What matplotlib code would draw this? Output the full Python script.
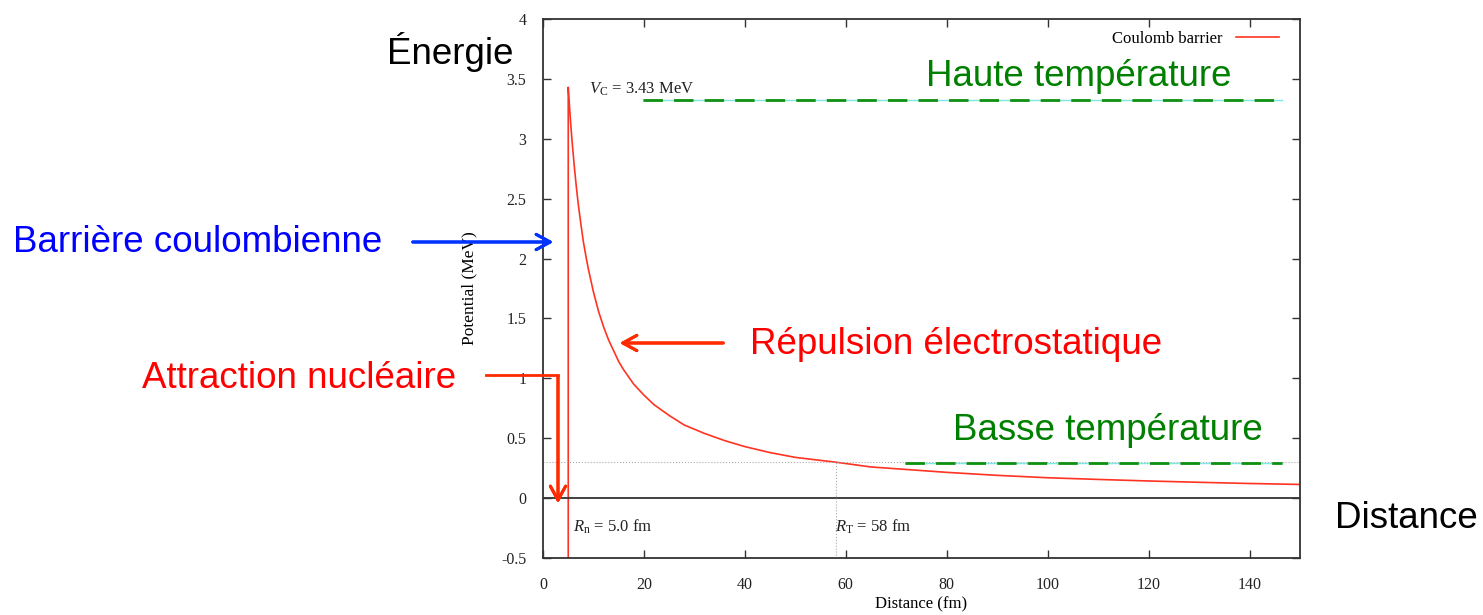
import numpy as np
import matplotlib.pyplot as plt

plt.rcParams['mathtext.fontset'] = 'custom'
plt.rcParams['mathtext.rm'] = 'Liberation Serif'
plt.rcParams['mathtext.it'] = 'Liberation Serif:italic'

# DATA
r_fm = [5, 5, 5.2, 5.5, 5.8, 6.2, 6.6, 7, 7.5, 8, 8.5, 9, 10, 11, 12, 13, 14, 15, 16,
        18, 20, 22, 25, 28, 32, 36, 40, 45, 50, 58, 65, 70, 80, 90, 100, 110, 120,
        130, 140, 150]
v_mev = [-0.5, 3.43, 3.30, 3.12, 2.96, 2.77, 2.60, 2.45, 2.29, 2.14, 2.02, 1.91,
         1.72, 1.56, 1.43, 1.32, 1.23, 1.14, 1.07, 0.95, 0.86, 0.78, 0.69, 0.61,
         0.54, 0.48, 0.43, 0.38, 0.34, 0.30, 0.26, 0.245, 0.215, 0.19, 0.17, 0.156,
         0.143, 0.132, 0.122, 0.114]
r_n = 5.0
r_t = 58
v_c = 3.43
v_t = 0.30
haute_x = [19.8, 146.5]
haute_y = 3.32
basse_x = [71.7, 146.5]
basse_y = 0.295
x_ticks = [0, 20, 40, 60, 80, 100, 120, 140]
y_ticks = [-0.5, 0, 0.5, 1, 1.5, 2, 2.5, 3, 3.5, 4]
y_labels = ['-0.5', '0', '0.5', '1', '1.5', '2', '2.5', '3', '3.5', '4']

W, H = 1483, 615
fig = plt.figure(figsize=(W / 100, H / 100), dpi=100)
ax = fig.add_axes([543 / W, 1 - 558 / H, (1300 - 543) / W, (558 - 19) / H])

serif = 'Liberation Serif'
sans = 'Liberation Sans'

def px(x, y):
    return (x / W, 1 - y / H)

# curve
ax.plot(r_fm, v_mev, color='#ff3322', lw=1.2, label='Coulomb barrier')
ax.axhline(0, color='#333333', lw=1.3)
ax.plot([0, 150], [v_t, v_t], ls=':', color='#aaaaaa', lw=0.8)
ax.plot([r_t, r_t], [-0.5, v_t], ls=':', color='#aaaaaa', lw=0.8)

# temperature lines (green dashes on cyan)
for xs, yv in [(haute_x, haute_y), (basse_x, basse_y)]:
    ax.plot(xs, [yv, yv], color='#7fe8e0', lw=1.0)
    ax.plot(xs, [yv, yv], color='#109010', lw=2.0, dashes=(7, 4))

ax.set_xlim(0, 150)
ax.set_ylim(-0.5, 4)
ax.set_xticks(x_ticks)
ax.set_yticks(y_ticks)
ax.set_yticklabels(y_labels)
ax.tick_params(direction='in', top=True, right=True, length=6, width=1,
               colors='#333333', labelsize=11.5, labelcolor='#222222')
ax.tick_params(axis='x', pad=14)
ax.tick_params(axis='y', pad=12)
for lab in ax.get_xticklabels() + ax.get_yticklabels():
    lab.set_fontfamily(serif)
for s in ax.spines.values():
    s.set_color('#333333')
    s.set_linewidth(1.3)

ax.set_xlabel('Distance (fm)', fontfamily=serif, fontsize=12, labelpad=2)
ax.set_ylabel('Potential (MeV)', fontfamily=serif, fontsize=12.5, labelpad=17)

leg = ax.legend(loc='upper right', frameon=False, markerfirst=False,
                prop={'family': serif, 'size': 12}, handlelength=2.6,
                borderaxespad=0.3, bbox_to_anchor=(0.988, 1.0))

ax.text(9.2, 3.41, r'$V_\mathrm{C}$ = 3.43 MeV', fontfamily=serif, fontsize=12,
        va='center', ha='left', color='#222222')
ax.text(6, -0.24, r'$R_\mathrm{n}$ = 5.0 fm', fontfamily=serif, fontsize=12,
        va='center', ha='left', color='#222222')
ax.text(57.8, -0.24, r'$R_\mathrm{T}$ = 58 fm', fontfamily=serif, fontsize=12,
        va='center', ha='left', color='#222222')

# overlay texts
fs = 26.5
fig.text(*px(450, 52), 'Énergie', fontfamily=sans, fontsize=fs, ha='center', va='center', color='black')
fig.text(*px(1079, 77), 'Haute température', fontfamily=sans, fontsize=fs, ha='center', va='center', color='#008000')
fig.text(*px(1108, 430), 'Basse température', fontfamily=sans, fontsize=fs, ha='center', va='center', color='#008000')
fig.text(*px(198, 242), 'Barrière coulombienne', fontfamily=sans, fontsize=fs, ha='center', va='center', color='#0000ff')
fig.text(*px(956, 344), 'Répulsion électrostatique', fontfamily=sans, fontsize=fs, ha='center', va='center', color='#ff0000')
fig.text(*px(299, 378), 'Attraction nucléaire', fontfamily=sans, fontsize=fs, ha='center', va='center', color='#ff0000')
fig.text(*px(1406, 518), 'Distance', fontfamily=sans, fontsize=fs, ha='center', va='center', color='black')

# arrows
head = '->, head_length=1.0, head_width=0.55'
fig.add_artist(plt.annotate('', xy=px(556, 242), xytext=px(410, 242), xycoords='figure fraction',
               arrowprops=dict(arrowstyle=head, color='#0033ff', lw=2.2)))
fig.add_artist(plt.annotate('', xy=px(617, 343), xytext=px(726, 343), xycoords='figure fraction',
               arrowprops=dict(arrowstyle=head, color='#ff2a00', lw=2.2)))
fig.add_artist(plt.Line2D([486 / W, 558 / W], [1 - 375 / H, 1 - 375 / H], color='#ff2a00', lw=2,
                          transform=fig.transFigure))
fig.add_artist(plt.annotate('', xy=px(558, 506), xytext=px(558, 374), xycoords='figure fraction',
               arrowprops=dict(arrowstyle=head, color='#ff2a00', lw=2.2)))

fig.savefig('out.png', dpi=100)
